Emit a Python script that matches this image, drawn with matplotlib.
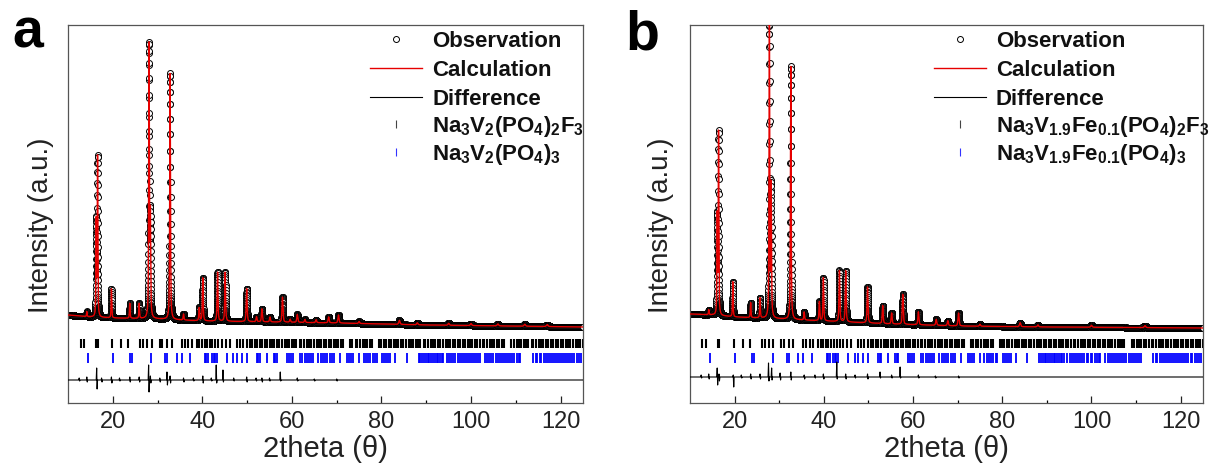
import numpy as np
import matplotlib
matplotlib.use('Agg')
import matplotlib.pyplot as plt

plt.rcParams['font.family'] = ['Liberation Sans', 'DejaVu Sans']
plt.rcParams['mathtext.fontset'] = 'custom'
plt.rcParams['mathtext.rm'] = 'Liberation Sans'
plt.rcParams['mathtext.bf'] = 'Liberation Sans:bold'
plt.rcParams['mathtext.it'] = 'Liberation Sans:italic'

# ---- data (intensity in arbitrary units) ----
bg_x = [10, 15, 20, 30, 40, 55, 70, 90, 125]
bg_a = [88, 86, 85, 84, 82, 81, 80, 78, 76]
bg_b = [89, 88, 86, 84, 82, 79, 77, 76, 75]

peak_pos_a = [14.2, 16.3, 16.6, 19.7, 23.8, 25.9, 28.1, 28.4, 32.8, 35.8, 39.3, 40.1, 43.4, 45.1,
              49.9, 52.1, 53.3, 55.1, 57.9, 59.6, 61.2, 62.9, 65.4, 68.2, 70.4,
              75.0, 84.0, 88.0, 95.0, 100.0, 106.0, 112.0, 117.0]
peak_h_a = [5, 95, 159, 29, 15, 15, 272, 100, 246, 6, 13, 43, 49, 49,
            33, 5, 13, 5, 25, 3, 8, 3, 3, 6, 8,
            2, 4, 2, 2, 2, 2, 2, 2]

peak_pos_b = [14.2, 16.1, 16.4, 19.6, 23.6, 25.7, 27.8, 28.2, 32.6, 35.6, 39.0, 39.9, 43.5, 44.9,
              49.8, 53.2, 55.2, 57.7, 61.2, 65.2, 67.8, 70.2,
              75.0, 84.0, 88.0, 100.0, 112.0]
peak_h_b = [5, 98, 182, 35, 15, 20, 292, 130, 253, 8, 19, 43, 51, 51,
            36, 18, 11, 30, 13, 6, 5, 13,
            2, 4, 2, 2, 2]

# difference curve: baseline level and spikes (position, up, down)
diff_base_a = 23
diff_pos_a = [12.5, 14.2, 16.4, 17.5, 19.7, 21.5, 23.8, 25.9, 28.0, 28.4, 30.5, 32.1, 32.8, 35.8,
              38.0, 40.1, 42.0, 43.1, 44.6, 47.0, 49.9, 52.0, 53.3, 55.0, 57.4, 61.2, 65.0, 70.0]
diff_up_a = [2, 3, 12, 2, 3, 2, 3, 3, 15, 4, 2, 8, 4, 2, 2, 4, 2, 15, 10, 2, 3, 2, 2, 2, 8, 2, 1, 1]
diff_dn_a = [1, 2, 9, 2, 3, 1, 2, 2, 12, 3, 2, 5, 3, 2, 1, 3, 1, 3, 2, 1, 2, 1, 2, 1, 1, 1, 1, 1]

diff_base_b = 26
diff_pos_b = [12.5, 14.2, 16.1, 16.5, 19.7, 21.5, 23.6, 25.7, 27.6, 28.3, 30.2, 32.6, 35.6, 38.0,
              39.9, 42.9, 44.9, 47.0, 49.8, 52.6, 55.2, 57.1, 61.2, 65.0, 70.2]
diff_up_b = [2, 3, 9, 3, 2, 2, 3, 3, 14, 9, 4, 5, 2, 2, 3, 15, 3, 2, 3, 5, 2, 10, 2, 1, 1]
diff_dn_b = [1, 2, 8, 4, 10, 1, 2, 2, 4, 3, 3, 3, 2, 1, 2, 2, 2, 1, 2, 1, 1, 1, 1, 1, 1]

phase1_ticks = [12.8, 13.6, 16.3, 16.6, 19.8, 21.8, 23.5, 26.1, 26.8, 27.7, 28.7, 30.5, 31.1, 32.2,
                33.2, 35.4, 36.1, 36.9, 37.6, 38.7, 39.3, 39.9, 40.5, 41.0, 41.6, 42.2, 42.9, 43.6,
                44.4, 45.3, 46.2, 47.7, 48.4, 49.1, 49.9, 50.6, 51.1, 51.8, 52.2, 52.8, 53.4, 53.9,
                54.4, 55.1, 55.5, 56.1, 56.7, 57.2, 57.7, 58.4, 58.8, 59.4, 60.0, 60.5, 61.0, 61.7,
                62.1, 62.7, 63.3, 63.8, 64.3, 64.9, 65.5, 66.0, 66.5, 67.2, 67.6, 68.2, 68.8, 69.3,
                69.8, 70.4, 71.0, 71.5, 73.0, 73.5, 74.2, 74.6, 75.2, 75.8, 76.3, 76.8, 77.5, 77.9,
                79.4, 79.9, 80.5, 81.1, 81.6, 82.1, 82.8, 83.2, 83.8, 84.4, 84.9, 85.4, 86.1, 86.5,
                87.1, 87.7, 88.2, 88.7, 89.4, 89.8, 90.4, 91.0, 91.5, 92.0, 92.7, 93.1, 93.7, 94.3,
                94.8, 95.3, 96.0, 96.4, 97.0, 97.6, 98.1, 98.6, 99.3, 99.7, 100.3, 100.9, 101.4,
                101.9, 102.6, 103.0, 103.6, 104.2, 104.7, 105.2, 105.9, 106.3, 106.9, 107.4, 109.0,
                109.5, 110.2, 110.6, 111.2, 111.8, 112.3, 112.8, 113.5, 113.9, 114.5, 115.1, 115.6,
                116.1, 116.8, 117.2, 117.8, 118.4, 118.9, 119.4, 120.1, 120.5, 121.1, 121.7, 122.2,
                122.7, 123.4, 123.8, 124.4, 124.9]
phase2_ticks = [14.5, 20.0, 23.8, 24.4, 28.5, 31.7, 32.2, 34.3, 35.4, 37.3, 40.6, 40.9, 41.3, 42.1,
                42.5, 42.8, 43.2, 45.4, 46.9, 47.7, 48.8, 49.9, 52.1, 52.5, 52.9, 54.4, 55.9, 56.3,
                56.6, 58.8, 59.3, 59.8, 60.3, 61.8, 62.3, 62.9, 63.4, 63.9, 64.3, 64.8, 65.9, 66.4,
                66.9, 67.4, 67.9, 68.4, 68.9, 69.3, 70.8, 72.3, 72.8, 73.3, 73.7, 74.9, 76.0, 76.5,
                77.0, 77.5, 78.0, 78.5, 78.9, 80.1, 80.6, 81.1, 81.5, 81.9, 83.0, 85.6, 88.3, 88.7,
                89.1, 89.5, 89.9, 90.3, 90.7, 91.1, 91.5, 91.9, 92.3, 92.7, 93.1, 93.5, 93.8, 94.6,
                95.1, 95.6, 96.0, 96.5, 97.0, 97.5, 97.9, 98.4, 98.9, 99.3, 99.8, 100.2, 100.7,
                101.2, 101.6, 102.0, 103.1, 103.6, 104.1, 104.5, 105.0, 105.5, 106.0, 106.4, 106.9,
                107.3, 107.8, 108.3, 108.8, 109.2, 109.7, 110.2, 110.6, 111.0, 113.9, 114.4, 114.8,
                115.3, 115.7, 116.2, 116.7, 117.1, 117.6, 118.0, 118.5, 119.0, 119.4, 119.9, 120.3,
                120.8, 121.3, 121.7, 122.2, 122.6, 123.1, 123.6, 124.1, 124.6]

labels_a = [r'$\mathbf{Na_3V_2(PO_4)_2F_3}$', r'$\mathbf{Na_3V_2(PO_4)_3}$']
labels_b = [r'$\mathbf{Na_3V_{1.9}Fe_{0.1}(PO_4)_2F_3}$', r'$\mathbf{Na_3V_{1.9}Fe_{0.1}(PO_4)_3}$']

W, H = 1209, 475


def pattern(x, bg, pos, hgt):
    y = np.interp(x, bg_x, bg)
    for p, h in zip(pos, hgt):
        w = 0.06 + 0.0012 * p
        d = (x - p) / w
        y = y + h * (0.55 / (1 + d ** 2) + 0.45 * np.exp(-np.log(2) * d ** 2))
    return y


def diff_curve(base, pos, up, dn):
    xs, ys = [10], [base]
    for p, u, d in zip(pos, up, dn):
        xs += [p - 0.1, p, p + 0.1, p + 0.2]
        ys += [base, base + u, base - d, base]
    xs.append(125)
    ys.append(base)
    return xs, ys


def plt_share(ax):
    ax.set_xlim(10, 125)
    ax.set_ylim(0, 378)
    ax.set_yticks([])
    ax.set_xticks(np.arange(20, 121, 20))
    ax.set_xticks(np.arange(30, 121, 20), minor=True)
    ax.tick_params(axis='x', direction='in', length=5, width=0.9, pad=6, labelsize=17,
                   colors='#222222')
    ax.tick_params(axis='x', which='minor', direction='in', length=2.5, width=0.9)
    for spi in ['bottom', 'left', 'top', 'right']:
        ax.spines[spi].set_linewidth(0.9)
        ax.spines[spi].set_color('#555555')
    ax.set_xlabel('2theta (\u03b8)', fontsize=21, labelpad=1, color='#222222')
    return ax


def draw(ax, bg, pos, hgt, diff, labels, anchor_x):
    tt = np.arange(10, 125.001, 0.01)
    calc = pattern(tt, bg, pos, hgt)
    dx, dy = diff_curve(*diff)
    obs, = ax.plot(tt, calc, ls='none', marker='o', ms=4.3, mfc='white', mec='k', mew=0.7,
                   zorder=2, label='Observation')
    cal, = ax.plot(tt, calc, c='#e60000', lw=1.0, zorder=3, label='Calculation')
    dif, = ax.plot(dx, dy, c='k', lw=0.8, zorder=3, label='Difference')
    ax.vlines(phase1_ticks, 55, 64, colors='k', lw=1.5)
    ax.vlines(phase2_ticks, 40, 50, colors='#0000ff', lw=1.3)
    p1, = ax.plot([], [], ls='none', marker='|', ms=6, mew=0.8, c='#444444', label=labels[0])
    p2, = ax.plot([], [], ls='none', marker='|', ms=6, mew=0.8, c='#3333ff', label=labels[1])
    kw = dict(loc='upper left', frameon=False, numpoints=1, prop={'size': 16, 'weight': 'bold'},
              handlelength=2.34, handletextpad=0.45, borderpad=0, borderaxespad=0)
    leg1 = ax.legend(handles=[obs, cal, dif], bbox_to_anchor=(anchor_x, 0.984),
                     labelspacing=0.35, **kw)
    ax.add_artist(leg1)
    leg2 = ax.legend(handles=[p1, p2], bbox_to_anchor=(anchor_x, 0.765),
                     labelspacing=0.15, **kw)
    for t in leg1.get_texts() + leg2.get_texts():
        t.set_color('#111111')


fig = plt.figure(figsize=(W / 100, H / 100), dpi=100)
ax1 = fig.add_axes([68 / W, 72 / H, 515 / W, 378 / H])
ax2 = fig.add_axes([690 / W, 72 / H, 513 / W, 378 / H])
plt_share(ax1)
plt_share(ax2)

draw(ax1, bg_a, peak_pos_a, peak_h_a, (diff_base_a, diff_pos_a, diff_up_a, diff_dn_a),
     labels_a, (370 - 68) / 515)
draw(ax2, bg_b, peak_pos_b, peak_h_b, (diff_base_b, diff_pos_b, diff_up_b, diff_dn_b),
     labels_b, (934 - 690) / 513)

fig.text(41 / W, 1 - 225 / H, 'Intensity (a.u.)', rotation=90, fontsize=20, ha='center',
         va='center', color='#222222')
fig.text(661 / W, 1 - 225 / H, 'Intensity (a.u.)', rotation=90, fontsize=20, ha='center',
         va='center', color='#222222')
fig.text(12 / W, 1 - 47 / H, 'a', fontsize=40, fontweight='bold', va='baseline')
fig.text(625 / W, 1 - 49 / H, 'b', fontsize=40, fontweight='bold', va='baseline')

plt.savefig('out.png', dpi=100)
